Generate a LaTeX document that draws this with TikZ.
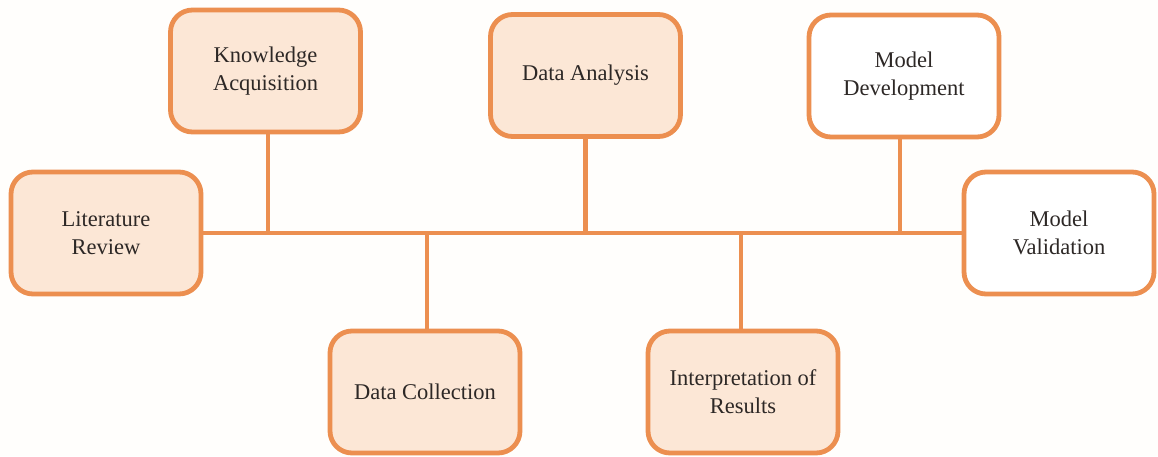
\documentclass[tikz,border=0pt]{standalone}
\usepackage{fontspec}
\setmainfont{Liberation Serif}
\definecolor{edgeor}{RGB}{236,143,80}
\definecolor{peach}{RGB}{252,231,214}
\definecolor{bgc}{RGB}{255,254,252}
\definecolor{txt}{RGB}{45,40,38}
\begin{document}
\begin{tikzpicture}[x=1pt,y=-1pt,
  stagebox/.style={draw=edgeor, line width=4.8pt, rounded corners=22pt,
    minimum width=190pt, minimum height=122pt, align=center, text=txt,
    font=\fontsize{22.5}{28}\selectfont, inner sep=2pt},
  filled/.style={stagebox, fill=peach},
  plain/.style={stagebox, fill=white},
  link/.style={draw=edgeor, line width=4.8pt}]
\fill[bgc] (0,0) rectangle (1158,456);
\useasboundingbox (0,0) rectangle (1158,456);
\node[filled] (LR) at (106,233) {Literature\\Review};
\node[filled] (KA) at (265.5,71) {Knowledge\\Acquisition};
\node[filled] (DA) at (585.5,75.5) {Data Analysis};
\node[plain]  (MD) at (904,76) {Model\\Development};
\node[plain]  (MV) at (1059,233) {Model\\Validation};
\node[filled] (DC) at (425,392) {Data Collection};
\node[filled] (IR) at (743,392) {Interpretation of\\Results};
\coordinate (k) at ([xshift=2.5pt]KA.south);
\coordinate (c) at ([xshift=2pt]DC.north);
\coordinate (d) at (DA.south);
\coordinate (i) at ([xshift=-2pt]IR.north);
\coordinate (m) at ([xshift=-4pt]MD.south);
\draw[link] (LR.east) -- (MV.west);
\draw[link] (k) -- (k |- LR.east);
\draw[link] (c) -- (c |- LR.east);
\draw[link] (d) -- (d |- LR.east);
\draw[link] (i) -- (i |- LR.east);
\draw[link] (m) -- (m |- LR.east);
\end{tikzpicture}
\end{document}
